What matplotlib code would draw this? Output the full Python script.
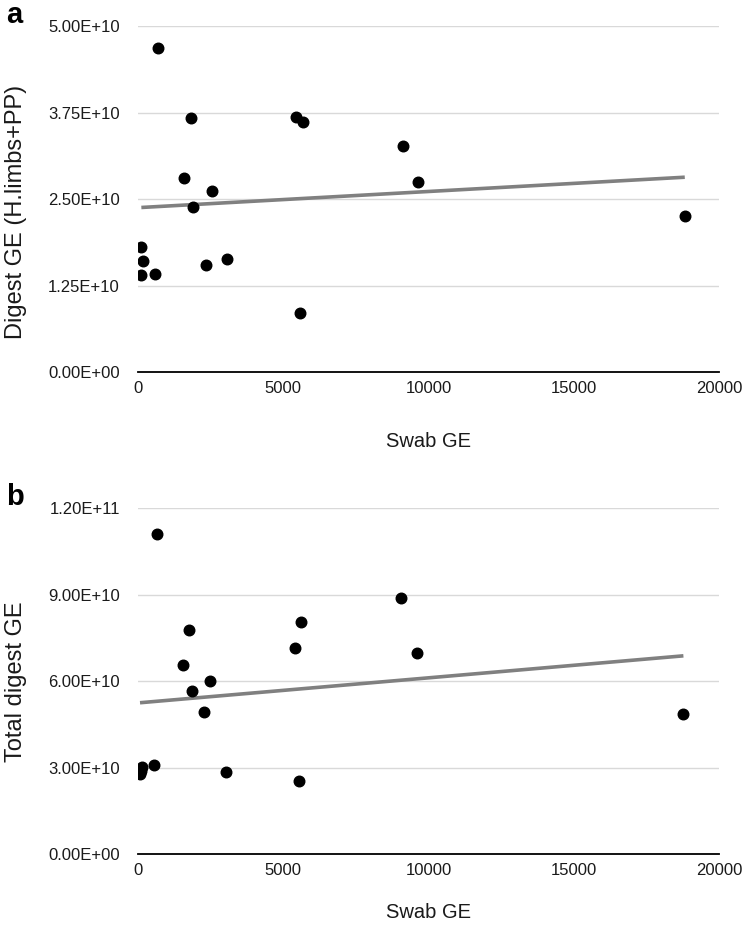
import numpy as np
import matplotlib
matplotlib.use("Agg")
import matplotlib.pyplot as plt
from matplotlib.ticker import FuncFormatter, MultipleLocator

plt.rcParams['font.family'] = ['Liberation Sans', 'DejaVu Sans']

# panel a: swab GE vs digest GE (H.limbs+PP)
swab_a = [700, 1817, 5437, 5679, 1598, 2552, 1908, 115, 184, 115, 598,
          2333, 3069, 5586, 9103, 9644, 18817]
digest_a = [4.69e10, 3.67e10, 3.69e10, 3.61e10, 2.80e10, 2.62e10, 2.39e10,
            1.815e10, 1.61e10, 1.40e10, 1.425e10, 1.555e10, 1.637e10,
            0.857e10, 3.266e10, 2.746e10, 2.263e10]

# panel b: swab GE vs total digest GE (one point near 0 sits under the others)
swab_b = [644, 1770, 1540, 2494, 1862, 5621, 5402, 2264, 126, 69, 100, 552,
          3034, 5529, 9045, 9586, 18770]
total_b = [11.10e10, 7.77e10, 6.55e10, 6.02e10, 5.67e10, 8.07e10, 7.14e10,
           4.95e10, 3.04e10, 2.78e10, 2.90e10, 3.10e10, 2.85e10, 2.54e10,
           8.88e10, 6.99e10, 4.86e10]

panels = [
    ("a", swab_a, digest_a, "Digest GE (H.limbs+PP)", 5e10, 1.25e10),
    ("b", swab_b, total_b, "Total digest GE", 1.2e11, 3e10),
]

fig = plt.figure(figsize=(7.46, 9.27), dpi=100)
boxes = [[0.185, 0.5984, 0.779, 0.3734], [0.185, 0.0784, 0.779, 0.3733]]
xlab_y = [-0.2, -0.168]
ylab_y = [0.463, 0.5]

for (tag, x, y, ylab, ymax, ystep), box, xly, yly in zip(panels, boxes, xlab_y, ylab_y):
    ax = fig.add_axes(box)
    x = np.array(x, dtype=float)
    y = np.array(y, dtype=float)

    # linear trendline over the data range
    k, b = np.polyfit(x, y, 1)
    xs = np.array([x.min(), x.max()])
    ax.plot(xs, k * xs + b, color='#808080', lw=2.6, solid_capstyle='butt', zorder=2)
    ax.plot(x, y, 'o', color='black', ms=7.6, zorder=3)

    ax.set_xlim(0, 20000)
    ax.set_ylim(0, ymax)
    ax.xaxis.set_major_locator(MultipleLocator(5000))
    ax.yaxis.set_major_locator(MultipleLocator(ystep))
    ax.yaxis.set_major_formatter(FuncFormatter(lambda v, p: f"{v:.2E}"))
    ax.grid(axis='y', color='#d9d9d9', lw=1)
    ax.set_axisbelow(True)
    for s in ['top', 'right', 'left']:
        ax.spines[s].set_visible(False)
    ax.spines['bottom'].set_color('black')
    ax.spines['bottom'].set_linewidth(1.3)
    ax.spines['bottom'].set_zorder(4)
    ax.tick_params(length=0, labelsize=12, colors='#1a1a1a')
    ax.tick_params(axis='y', pad=13)
    ax.tick_params(axis='x', pad=6)

    ax.set_xlabel("Swab GE", fontsize=14.5, color='#1a1a1a')
    ax.xaxis.set_label_coords(0.5, xly)
    ax.xaxis.label.set_va('center')
    ax.set_ylabel(ylab, fontsize=17, color='#1a1a1a')
    ax.yaxis.set_label_coords(-0.21, yly)
    ax.yaxis.label.set_va('center')

    top = box[1] + box[3]
    fig.text(0.008, top + 0.012, tag, fontsize=21, fontweight='bold',
             ha='left', va='center')

fig.savefig("out.png", dpi=100)
